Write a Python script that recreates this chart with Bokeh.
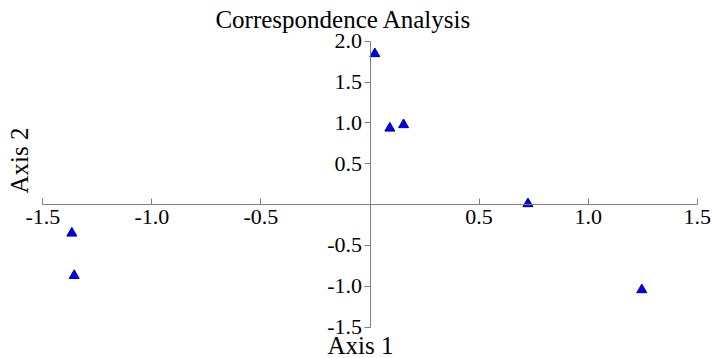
import math
from bokeh.plotting import figure
from bokeh.models import LinearAxis, FixedTicker, PrintfTickFormatter, Range1d, Label
from bokeh.embed import file_html
from bokeh.resources import INLINE

# ---- data ----
axis1_vals = [0.022, 0.091, 0.154, 0.724, 1.246, -1.367, -1.356]
axis2_vals = [1.846, 0.935, 0.977, 0.010, -1.043, -0.350, -0.868]
x_ticks = [-1.5, -1.0, -0.5, 0.5, 1.0, 1.5]
y_ticks = [-1.5, -1.0, -0.5, 0.5, 1.0, 1.5, 2.0]
title_text = "Correspondence Analysis"
xlabel_text = "Axis 1"
ylabel_text = "Axis 2"

# ---- layout geometry (pixels) ----
W, H = 712, 358
X0_PX, X_PER_UNIT = 369.5, 218.13   # canvas x of x=0, pixels per unit
Y0_PX, Y_PER_UNIT = 204.1, 81.71    # canvas y of y=0 (from top), pixels per unit

def dx(cx):
    return (cx - X0_PX) / X_PER_UNIT

def dy(cy):
    return (Y0_PX - cy) / Y_PER_UNIT

FONT = "Liberation Serif"
AXIS_COLOR = "#808080"

p = figure(width=W, height=H, output_backend="svg", toolbar_location=None,
           x_range=Range1d(dx(0), dx(W)), y_range=Range1d(dy(H), dy(0)),
           x_axis_location=None, y_axis_location=None,
           min_border=0, outline_line_color=None, background_fill_color="white")
p.grid.visible = False

xaxis = LinearAxis(fixed_location=0, ticker=FixedTicker(ticks=x_ticks),
                   formatter=PrintfTickFormatter(format="%.1f"), bounds=(-1.5, 1.5))
xaxis.major_tick_in = 6
xaxis.major_tick_out = 0
xaxis.minor_tick_in = 0
xaxis.minor_tick_out = 0
xaxis.major_label_standoff = 5
p.add_layout(xaxis, "below")

yaxis = LinearAxis(fixed_location=0, ticker=FixedTicker(ticks=y_ticks),
                   formatter=PrintfTickFormatter(format="%.1f"), bounds=(-1.5, 2.0))
yaxis.major_tick_in = 0
yaxis.major_tick_out = 6
yaxis.minor_tick_in = 0
yaxis.minor_tick_out = 0
yaxis.major_label_standoff = 2
p.add_layout(yaxis, "left")

for ax in (xaxis, yaxis):
    ax.axis_line_color = AXIS_COLOR
    ax.major_tick_line_color = AXIS_COLOR
    ax.axis_line_width = 1
    ax.major_label_text_font = FONT
    ax.major_label_text_font_size = "22px"
    ax.major_label_text_font_style = "normal"
    ax.major_label_text_color = "black"

p.scatter(axis1_vals, axis2_vals, marker="triangle", size=10,
          fill_color="#0000ff", line_color="#00007f", line_width=1)

p.add_layout(Label(x=dx(343), y=dy(19), text=title_text, text_font=FONT,
                   text_font_size="25px", text_align="center",
                   text_baseline="alphabetic", text_color="black"))
p.add_layout(Label(x=dx(360), y=dy(345), text=xlabel_text, text_font=FONT,
                   text_font_size="25px", text_align="center",
                   text_baseline="alphabetic", text_color="black"))
p.add_layout(Label(x=dx(19), y=dy(160), text=ylabel_text, text_font=FONT,
                   text_font_size="25px", text_align="center", angle=math.pi / 2,
                   text_baseline="middle", text_color="black"))

open("out.html", "w").write(file_html(p, INLINE))
